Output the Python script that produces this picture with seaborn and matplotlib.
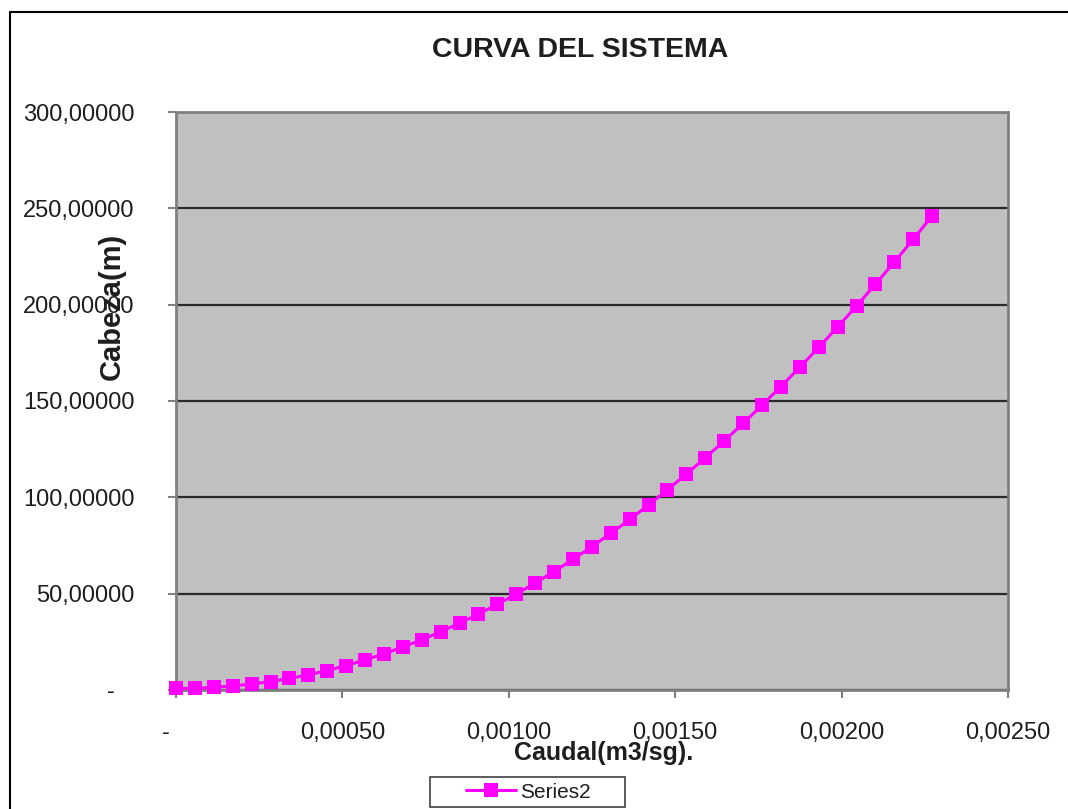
import matplotlib
matplotlib.use("Agg")
import matplotlib.pyplot as plt
import seaborn as sns
import pandas as pd
from matplotlib.lines import Line2D
from matplotlib.patches import Rectangle

# Flow rate (m3/s) and system head (m) along the system curve
caudal = [0.0000000, 0.0000568, 0.0001136, 0.0001704, 0.0002272, 0.0002840,
          0.0003408, 0.0003976, 0.0004544, 0.0005112, 0.0005680, 0.0006248,
          0.0006816, 0.0007384, 0.0007952, 0.0008520, 0.0009088, 0.0009656,
          0.0010224, 0.0010792, 0.0011360, 0.0011928, 0.0012496, 0.0013064,
          0.0013632, 0.0014200, 0.0014768, 0.0015336, 0.0015904, 0.0016472,
          0.0017040, 0.0017608, 0.0018176, 0.0018744, 0.0019312, 0.0019880,
          0.0020448, 0.0021016, 0.0021584, 0.0022152, 0.0022720]
cabeza = [0.8, 0.9, 1.4, 2.1, 3.1, 4.4, 6.0, 7.9, 10.1, 12.7, 15.6, 18.8,
          22.3, 26.1, 30.2, 34.7, 39.4, 44.5, 49.8, 55.5, 61.5, 67.8, 74.4,
          81.3, 88.5, 96.1, 103.9, 112.1, 120.5, 129.3, 138.4, 147.8, 157.5,
          167.5, 177.8, 188.4, 199.3, 210.6, 222.1, 233.9, 246.1]

x_ticks = [0.0, 0.0005, 0.0010, 0.0015, 0.0020, 0.0025]
x_tick_labels = ["-   ", "0,00050", "0,00100", "0,00150", "0,00200", "0,00250"]
y_ticks = [0, 50, 100, 150, 200, 250, 300]
y_tick_labels = ["-   ", "50,00000", "100,00000", "150,00000", "200,00000",
                 "250,00000", "300,00000"]

sns.set_theme(style="white")
plt.rcParams['font.family'] = ['Liberation Sans', 'DejaVu Sans']

W, H = 1068, 809
fig = plt.figure(figsize=(W / 100, H / 100), dpi=100)
fig.patch.set_facecolor("white")

ax = fig.add_axes([176 / W, 1 - 690 / H, (1008 - 176) / W, (690 - 112) / H])
ax.set_facecolor("#C0C0C0")

df = pd.DataFrame({"Caudal": caudal, "Cabeza": cabeza})
sns.lineplot(data=df, x="Caudal", y="Cabeza", ax=ax, color="#FF00FF",
             marker="s", markersize=9.8, markeredgewidth=0, linewidth=2.2,
             label="Series2", clip_on=False, zorder=5)

ax.set_xlim(0, 0.0025)
ax.set_ylim(0, 300)
ax.set_xticks(x_ticks)
ax.set_xticklabels(x_tick_labels)
ax.set_yticks(y_ticks)
ax.set_yticklabels(y_tick_labels)

ax.grid(axis="y", color="#2a2a2a", linewidth=1.6)
ax.grid(axis="x", visible=False)
ax.set_axisbelow(True)

for side, spine in ax.spines.items():
    spine.set_visible(True)
    spine.set_color("#808080")
    spine.set_linewidth(2)

ax.tick_params(axis="both", direction="out", length=6, width=1.5,
               color="#808080", labelsize=17, labelcolor="#1e1e1e")
ax.tick_params(axis="x", pad=17, bottom=True)
ax.tick_params(axis="y", pad=24, left=True)

ax.set_xlabel("Caudal(m3/sg).", fontsize=18, fontweight="bold", color="#1e1e1e")
ax.xaxis.set_label_coords((604 - 176) / 832, (690 - 753) / 578)
ax.xaxis.label.set_va("center")
ax.set_ylabel("Cabeza(m)", fontsize=21, fontweight="bold", color="#1e1e1e")
ax.yaxis.set_label_coords((112 - 176) / 832, (690 - 306) / 578)
ax.yaxis.label.set_va("center")

fig.text(580 / W, 1 - 50 / H, "CURVA DEL SISTEMA", ha="center", va="center",
         fontsize=20.5, fontweight="bold", color="#1e1e1e")

# Legend below the axis title, inside a plain box
leg = ax.legend(loc="center", bbox_to_anchor=(528 / W, 1 - 792 / H),
                bbox_transform=fig.transFigure, frameon=False, fontsize=15,
                handlelength=2.4, handletextpad=0.2, borderpad=0.2)
for txt in leg.get_texts():
    txt.set_color("#1e1e1e")
fig.patches.append(Rectangle((430 / W, 1 - 807 / H), 195 / W, 30 / H,
                             transform=fig.transFigure, fill=False,
                             edgecolor="#404040", linewidth=1.2))

# Outer chart frame (top and left edges)
fig.add_artist(Line2D([10 / W, 1.0], [1 - 12 / H, 1 - 12 / H],
                      transform=fig.transFigure, color="black", linewidth=1.5))
fig.add_artist(Line2D([10 / W, 10 / W], [1 - 12 / H, 0.0],
                      transform=fig.transFigure, color="black", linewidth=1.5))

fig.savefig("out.png", dpi=100)
